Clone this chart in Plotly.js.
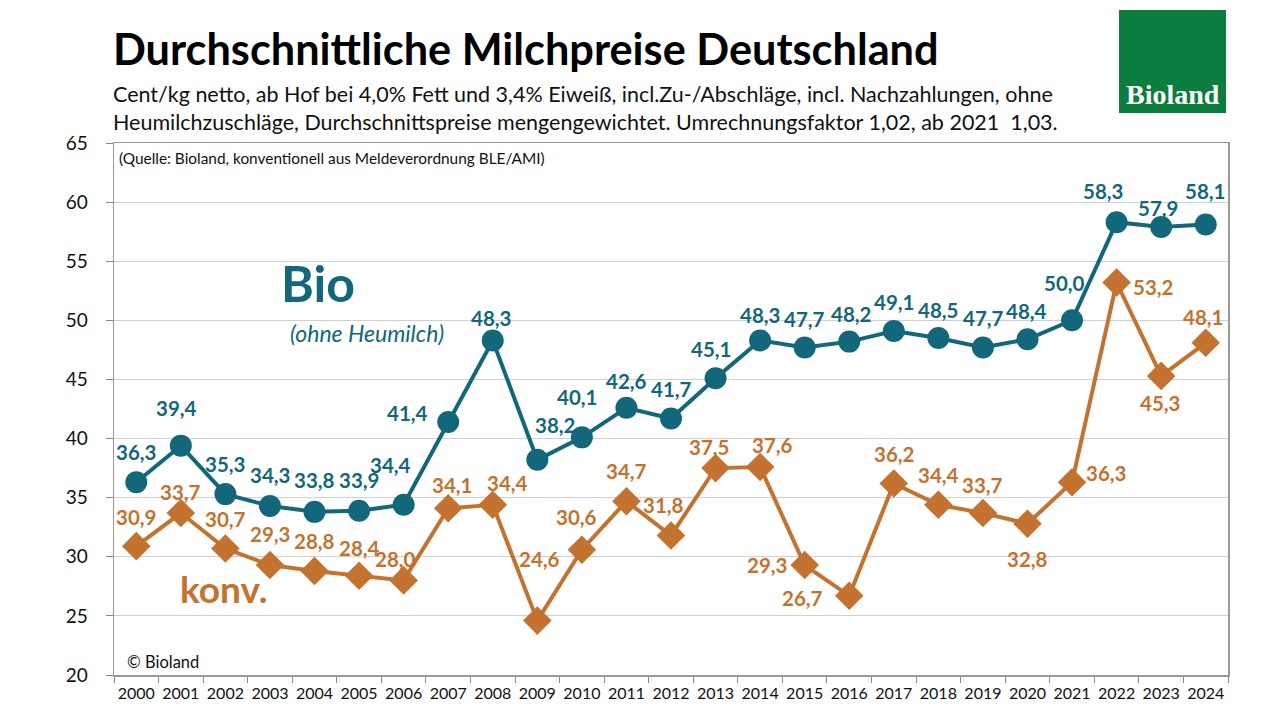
<!DOCTYPE html>
<html>
<head>
<meta charset="utf-8">
<script src="https://cdn.plot.ly/plotly-3.0.1.min.js"></script>
<style>
html,body{margin:0;padding:0;background:#fff;}
#chart{width:1280px;height:720px;}
</style>
</head>
<body>
<div id="chart"></div>
<script>
const years = ["2000","2001","2002","2003","2004","2005","2006","2007","2008","2009","2010","2011","2012","2013","2014","2015","2016","2017","2018","2019","2020","2021","2022","2023","2024"];
const bio = [36.3,39.4,35.3,34.3,33.8,33.9,34.4,41.4,48.3,38.2,40.1,42.6,41.7,45.1,48.3,47.7,48.2,49.1,48.5,47.7,48.4,50.0,58.3,57.9,58.1];
const konv = [30.9,33.7,30.7,29.3,28.8,28.4,28.0,34.1,34.4,24.6,30.6,34.7,31.8,37.5,37.6,29.3,26.7,36.2,34.4,33.7,32.8,36.3,53.2,45.3,48.1];
const yTicks = [20,25,30,35,40,45,50,55,60,65];

// label offsets in pixels [dx, dy] (dy positive = downward)
const bioOff = [[0,-30],[-4,-38],[0,-30],[0,-31],[0,-32],[0,-31],[-13,-40],[-41,-9],[-2,-22],[18,-35],[-5,-40],[0,-27],[0,-29],[-5,-29],[0,-25],[0,-29],[2,-28],[0,-29],[0,-28],[1,-30],[-1,-28],[-8,-37],[-14,-31],[-3,-19],[-1,-34]];
const konvOff = [[0,-29],[0,-21],[0,-30],[0,-31],[0,-30],[0,-28],[-8,-21],[4,-23],[15,-22],[2,-62],[-5,-33],[0,-30],[-8,-31],[-7,-21],[12,-22],[-38,0],[-47,2],[0,-29],[0,-30],[0,-28],[0,35],[34,-9],[36,4],[-1,27],[-3,-26]];

const BIO_C = '#12687a';
const KONV_C = '#c3732f';
const FONT = 'Lato, "Open Sans", sans-serif';
const fmt = v => v.toFixed(1).replace('.', ',');

const traces = [
  {x: years, y: konv, type:'scatter', mode:'lines+markers', name:'konv.',
   line:{color:KONV_C, width:4}, marker:{symbol:'diamond', size:22, color:KONV_C}},
  {x: years, y: bio, type:'scatter', mode:'lines+markers', name:'Bio',
   line:{color:BIO_C, width:4}, marker:{symbol:'circle', size:22, color:BIO_C}}
];

const px = x => (x-114)/1114, py = y => (675-y)/532;
const ann = [];
years.forEach((yr,i)=>{
  ann.push({x:i, y:bio[i], xref:'x', yref:'y', text:'<b>'+fmt(bio[i])+'</b>', showarrow:false,
    xanchor:'center', yanchor:'middle',
    xshift:bioOff[i][0], yshift:-bioOff[i][1], font:{family:FONT, size:20.5, color:BIO_C}});
  ann.push({x:i, y:konv[i], xref:'x', yref:'y', text:'<b>'+fmt(konv[i])+'</b>', showarrow:false,
    xanchor:'center', yanchor:'middle',
    xshift:konvOff[i][0], yshift:-konvOff[i][1], font:{family:FONT, size:20.5, color:KONV_C}});
});
// series name labels
ann.push({x:px(318), y:py(283), xref:'paper', yref:'paper', xanchor:'center', yanchor:'middle', text:'<b>Bio</b>', showarrow:false, font:{family:FONT, size:50, color:BIO_C}});
ann.push({x:px(367), y:py(333), xref:'paper', yref:'paper', xanchor:'center', yanchor:'middle', text:'<i>(ohne Heumilch)</i>', showarrow:false, font:{family:FONT, size:23, color:BIO_C}});
ann.push({x:px(224), y:py(588), xref:'paper', yref:'paper', xanchor:'center', yanchor:'middle', text:'<b>konv.</b>', showarrow:false, font:{family:FONT, size:37, color:KONV_C}});
ann.push({x:px(117), y:py(158), xref:'paper', yref:'paper', xanchor:'left', yanchor:'middle', text:'(Quelle: Bioland, konventionell aus Meldeverordnung BLE/AMI)', showarrow:false, font:{family:FONT, size:15.4, color:'#111'}});
ann.push({x:px(125), y:py(662), xref:'paper', yref:'paper', xanchor:'left', yanchor:'middle', text:'© Bioland', showarrow:false, font:{family:FONT, size:16.5, color:'#111'}});
ann.push(
  {x:px(111), y:py(48), xref:'paper', yref:'paper', xanchor:'left', yanchor:'middle', showarrow:false,
   text:'<b>Durchschnittliche Milchpreise Deutschland</b>', font:{family:FONT, size:43.3, color:'#000'}},
  {x:px(111), y:py(108), xref:'paper', yref:'paper', xanchor:'left', yanchor:'middle', align:'left', showarrow:false,
   text:'Cent/kg netto, ab Hof bei 4,0% Fett und 3,4% Eiweiß, incl.Zu-/Abschläge, incl. Nachzahlungen, ohne<br>Heumilchzuschläge, Durchschnittspreise mengengewichtet. Umrechnungsfaktor 1,02, ab 2021  1,03.',
   font:{family:FONT, size:21.5, color:'#111'}},
  {x:px(1173), y:py(94), xref:'paper', yref:'paper', xanchor:'center', yanchor:'middle', showarrow:false,
   text:'<b>Bioland</b>', font:{family:'"Liberation Serif", "DejaVu Serif", serif', size:28, color:'#fff'}}
);

const layout = {
  width:1280, height:720,
  paper_bgcolor:'#fff', plot_bgcolor:'#fff',
  margin:{l:114, r:52, t:143, b:45},
  showlegend:false,
  separators:',.',
  xaxis:{type:'category', range:[-0.5,24.5], tickson:'boundaries', ticks:'outside', ticklen:6, tickcolor:'#888',
    showline:true, linecolor:'#999', linewidth:1.5, mirror:true, showgrid:false, tickangle:0,
    ticklabelstandoff:3, tickfont:{family:FONT, size:16, color:'#111'}},
  yaxis:{range:[20,65], tickvals:yTicks, ticks:'outside', ticklen:7, tickcolor:'#888',
    showline:true, linecolor:'#999', linewidth:1.5, mirror:true, showgrid:true, gridcolor:'#d0d0d0', gridwidth:1,
    zeroline:false, tickfont:{family:FONT, size:19, color:'#111'}, ticklabelstandoff:14},
  annotations: ann,
  shapes:[
    {type:'rect', xref:'paper', yref:'paper', x0:px(1119), x1:px(1226), y0:py(113), y1:py(10),
     fillcolor:'#0b7d3e', line:{width:0}, layer:'below'}
  ]
};

Plotly.newPlot('chart', traces, layout, {displayModeBar:false, staticPlot:true});
</script>
</body>
</html>
